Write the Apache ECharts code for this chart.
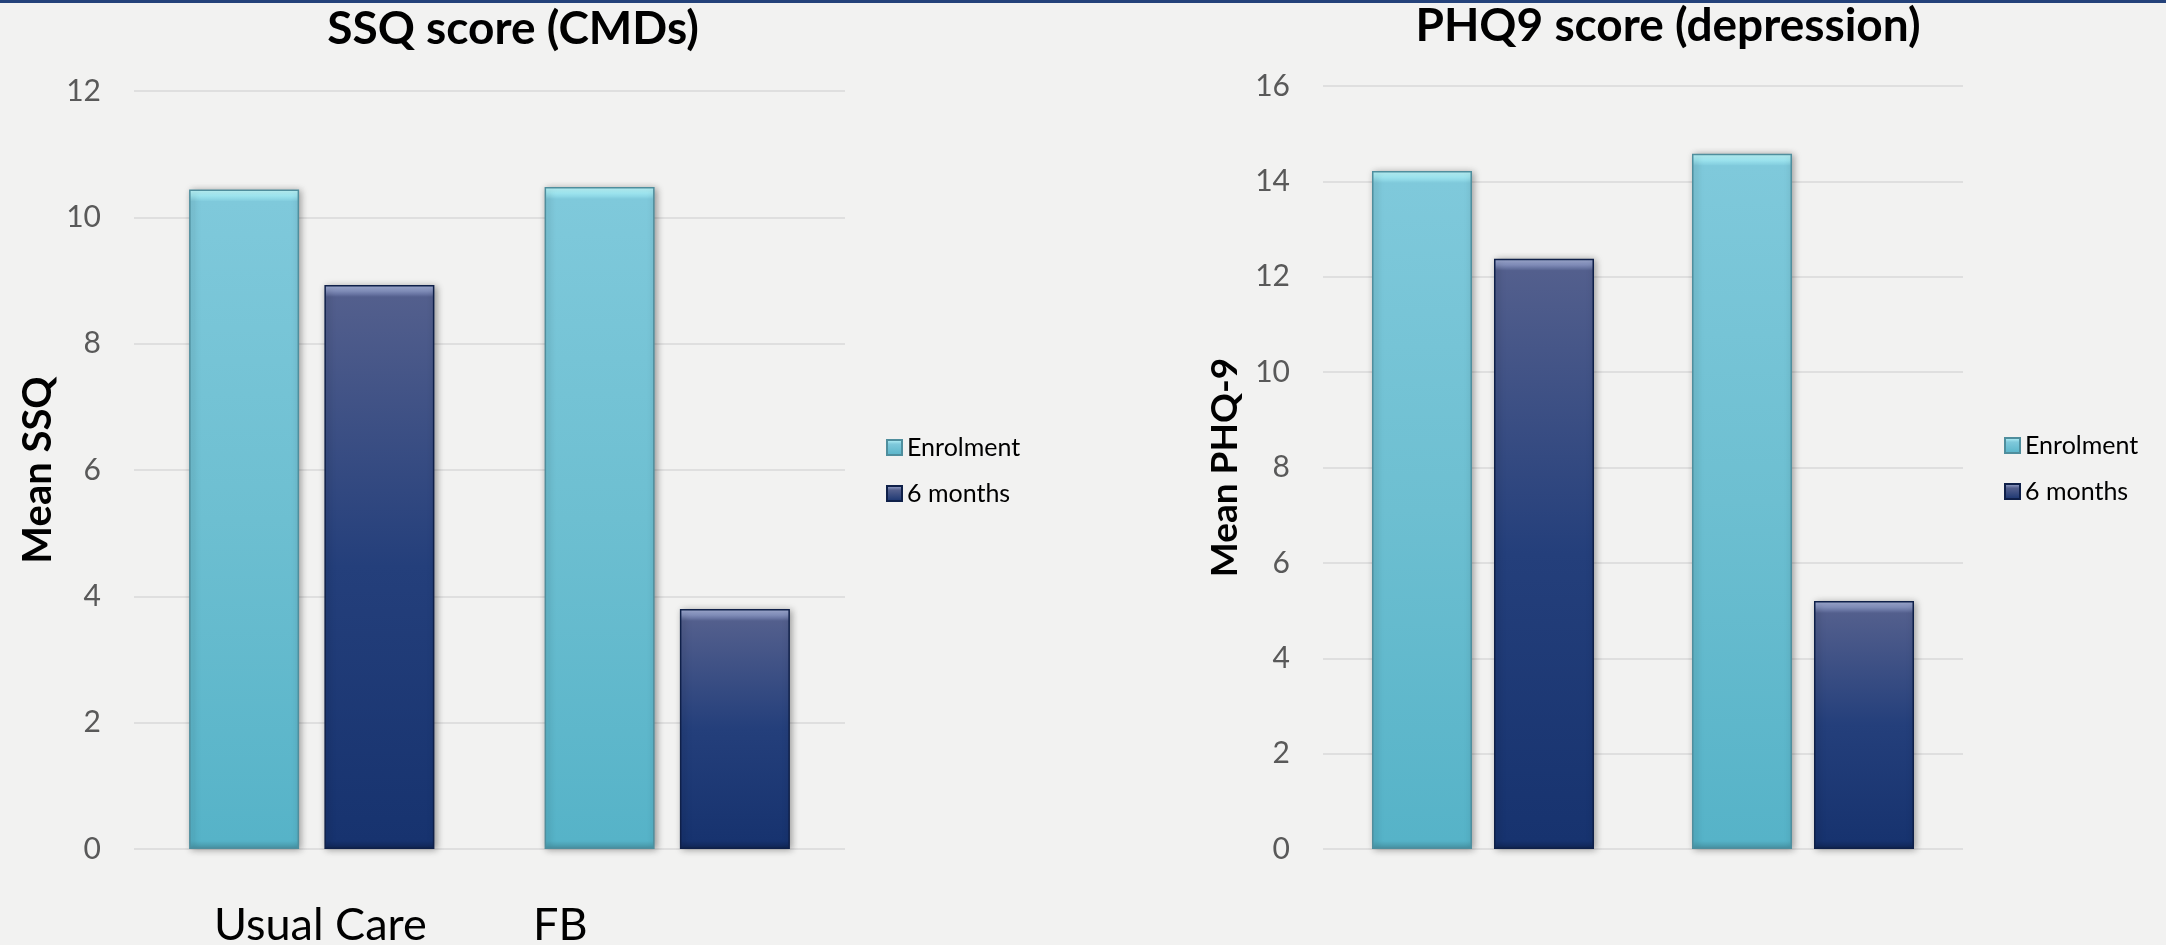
<!DOCTYPE html>
<html>
<head>
<meta charset="utf-8">
<script src="https://cdn.jsdelivr.net/npm/echarts/dist/echarts.min.js"></script>
<style>
  html, body { margin: 0; padding: 0; background: #F2F2F1; }
  #chart { width: 2166px; height: 945px; }
</style>
</head>
<body>
<div id="chart"></div>
<script>
// ---- data ----
const categories = ['Usual Care', 'FB'];
const seriesNames = ['Enrolment', '6 months'];
const ssqEnrolment = [10.44, 10.48];
const ssqSixMonths = [8.93, 3.80];
const phqEnrolment = [14.22, 14.58];
const phqSixMonths = [12.38, 5.20];
const ssqAxis = { min: 0, max: 12, interval: 2 };
const phqAxis = { min: 0, max: 16, interval: 2 };
const titles = ['SSQ score (CMDs)', 'PHQ9 score (depression)'];
const axisNames = ['Mean SSQ', 'Mean PHQ-9'];

// ---- layout ----
const leftGrid = { left: 134, top: 91, width: 711, height: 758 };
const rightGrid = { left: 1323, top: 86, width: 640, height: 763 };

const palettes = {
  enrol: {
    capTop: '#C2FCFF', cap: '#A3ECF6', bodyTop: '#7FC9DB', bodyMid: '#6DBFD1', bodyBottom: '#56B3C8',
    baseTop: '#50A7BA', base: '#4896A8', border: '#4F8E9D'
  },
  six: {
    capTop: '#A7B3DA', cap: '#8592BF', bodyTop: '#535F8D', bodyMid: '#243F7B', bodyBottom: '#17336F',
    baseTop: '#142D64', base: '#102653', border: '#0F2049'
  }
};

// Vertical fill with a bevelled cap and base of fixed pixel size
function barFill(pal, h) {
  const t = px => Math.min(px / h, 0.45);
  return new echarts.graphic.LinearGradient(0, 0, 0, 1, [
    { offset: 0, color: pal.capTop },
    { offset: t(6), color: pal.cap },
    { offset: t(12), color: pal.bodyTop },
    { offset: 0.5, color: pal.bodyMid },
    { offset: 1 - t(8), color: pal.bodyBottom },
    { offset: 1 - t(4), color: pal.baseTop },
    { offset: 1, color: pal.base }
  ]);
}

function barItems(values, grid, axis, pal) {
  const pxPerUnit = grid.height / (axis.max - axis.min);
  return values.map(v => ({
    value: v,
    itemStyle: { color: barFill(pal, v * pxPerUnit) }
  }));
}

function iconFill(pal) {
  return new echarts.graphic.LinearGradient(0, 0, 0, 1, [
    { offset: 0, color: pal.capTop },
    { offset: 0.3, color: pal.bodyTop },
    { offset: 1, color: pal.bodyBottom }
  ]);
}

const font = 'Lato, "Open Sans", sans-serif';

function barSeries(name, values, idx, grid, axis, pal, width, gap) {
  return {
    type: 'bar',
    name: name,
    xAxisIndex: idx,
    yAxisIndex: idx,
    barWidth: width,
    barGap: gap,
    data: barItems(values, grid, axis, pal),
    itemStyle: {
      color: iconFill(pal),
      borderColor: pal.border,
      borderWidth: 1.5,
      shadowColor: 'rgba(0,0,0,0.38)',
      shadowBlur: 7,
      shadowOffsetX: 2,
      shadowOffsetY: 1
    },
    emphasis: { disabled: true }
  };
}

function valueAxis(idx, axis, name, nameSize, nameGap) {
  return {
    type: 'value',
    gridIndex: idx,
    min: axis.min,
    max: axis.max,
    interval: axis.interval,
    name: name,
    nameLocation: 'middle',
    nameGap: nameGap,
    nameTextStyle: { fontFamily: font, fontWeight: 'bold', fontSize: nameSize, color: '#000' },
    axisLine: { show: false },
    axisTick: { show: false },
    axisLabel: { fontFamily: font, fontSize: 30, color: '#595959', margin: 33 },
    splitLine: { lineStyle: { color: '#D9D9D9', width: 1.5 } }
  };
}

function categoryAxis(idx) {
  return {
    type: 'category',
    gridIndex: idx,
    data: categories,
    axisLine: { show: false },
    axisTick: { show: false },
    axisLabel: { show: false }
  };
}

function legendAt(left, top) {
  return {
    data: seriesNames,
    orient: 'vertical',
    left: left,
    top: top,
    itemWidth: 15,
    itemHeight: 15,
    itemGap: 21,
    icon: 'rect',
    selectedMode: false,
    textStyle: { fontFamily: font, fontSize: 25, color: '#000', lineHeight: 25 }
  };
}

const chart = echarts.init(document.getElementById('chart'), null, { renderer: 'canvas' });

chart.setOption({
  backgroundColor: '#F2F2F1',
  animation: false,
  title: [
    {
      text: titles[0], left: 513, top: 3, textAlign: 'center', padding: 0,
      textStyle: { fontFamily: font, fontWeight: 'bold', fontSize: 46, color: '#000', lineHeight: 52 }
    },
    {
      text: titles[1], left: 1668, top: 0, textAlign: 'center', padding: 0,
      textStyle: { fontFamily: font, fontWeight: 'bold', fontSize: 46, color: '#000', lineHeight: 52 }
    }
  ],
  legend: [legendAt(881, 430), legendAt(1999, 428)],
  grid: [
    Object.assign({ containLabel: false }, leftGrid),
    Object.assign({ containLabel: false }, rightGrid)
  ],
  xAxis: [categoryAxis(0), categoryAxis(1)],
  yAxis: [
    valueAxis(0, ssqAxis, axisNames[0], 40, 76),
    valueAxis(1, phqAxis, axisNames[1], 37, 79)
  ],
  series: [
    barSeries(seriesNames[0], ssqEnrolment, 0, leftGrid, ssqAxis, palettes.enrol, 110, '23%'),
    barSeries(seriesNames[1], ssqSixMonths, 0, leftGrid, ssqAxis, palettes.six, 110, '23%'),
    barSeries(seriesNames[0], phqEnrolment, 1, rightGrid, phqAxis, palettes.enrol, 100, '22%'),
    barSeries(seriesNames[1], phqSixMonths, 1, rightGrid, phqAxis, palettes.six, 100, '22%')
  ],
  graphic: [
    // slide header rule
    { type: 'rect', left: 0, top: 0, shape: { width: 2166, height: 3 }, style: { fill: '#24427A' }, silent: true },
    // group captions under the SSQ chart
    {
      type: 'text', x: 214, y: 925, silent: true,
      style: { text: categories[0], fontFamily: font, fontSize: 45, fill: '#000', verticalAlign: 'middle' }
    },
    {
      type: 'text', x: 533, y: 925, silent: true,
      style: { text: categories[1], fontFamily: font, fontSize: 45, fill: '#000', verticalAlign: 'middle' }
    }
  ]
});
</script>
</body>
</html>
